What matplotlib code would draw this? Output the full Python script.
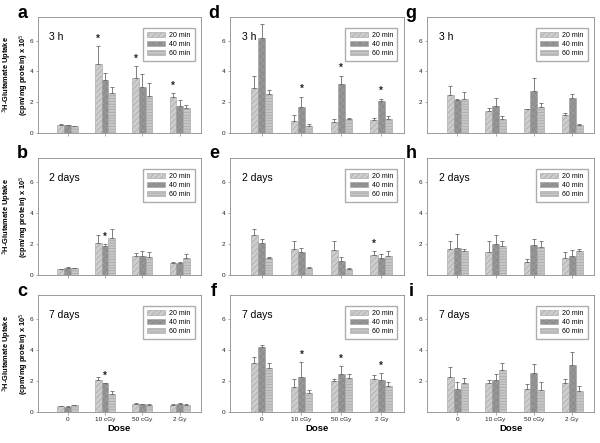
import numpy as np
import matplotlib.pyplot as plt

plt.rcParams['font.family'] = ['Liberation Sans', 'DejaVu Sans']
plt.rcParams['hatch.linewidth'] = 0.4

doses = ['0', '10 cGy', '50 cGy', '2 Gy']
series = ['20 min', '40 min', '60 min']

# means / error (SEM) per panel: rows = 20, 40, 60 min ; cols = doses
a_mean = [[0.54, 4.49, 3.60, 2.31], [0.50, 3.46, 2.98, 1.73], [0.43, 2.60, 2.42, 1.62]]
a_err = [[0.04, 1.17, 0.76, 0.28], [0.03, 0.43, 0.86, 0.43], [0.03, 0.38, 0.82, 0.22]]
d_mean = [[2.93, 0.75, 0.73, 0.84], [6.15, 1.71, 3.15, 2.06], [2.50, 0.47, 0.94, 0.94]]
d_err = [[0.80, 0.41, 0.17, 0.16], [0.92, 0.65, 0.58, 0.17], [0.28, 0.11, 0.05, 0.16]]
g_mean = [[2.49, 1.45, 1.54, 1.15], [2.14, 1.75, 2.75, 2.27], [2.20, 0.93, 1.66, 0.54]]
g_err = [[0.58, 0.17, 0.04, 0.17], [0.04, 0.50, 0.82, 0.26], [0.44, 0.17, 0.29, 0.04]]
b_mean = [[0.36, 2.03, 1.22, 0.79], [0.47, 1.86, 1.22, 0.75], [0.43, 2.35, 1.18, 1.07]]
b_err = [[0.05, 0.57, 0.17, 0.04], [0.04, 0.13, 0.32, 0.10], [0.04, 0.64, 0.32, 0.28]]
e_mean = [[2.60, 1.65, 1.60, 1.30], [2.07, 1.50, 0.92, 1.11], [1.11, 0.47, 0.41, 1.22]]
e_err = [[0.33, 0.57, 0.62, 0.26], [0.22, 0.23, 0.26, 0.21], [0.04, 0.02, 0.06, 0.34]]
h_mean = [[1.70, 1.48, 0.84, 1.10], [1.74, 2.00, 1.96, 1.20], [1.53, 1.87, 1.78, 1.55]]
h_err = [[0.47, 0.69, 0.17, 0.38], [0.90, 0.60, 0.34, 0.39], [0.13, 0.30, 0.39, 0.11]]
c_mean = [[0.37, 2.03, 0.54, 0.48], [0.32, 1.84, 0.50, 0.50], [0.43, 1.13, 0.43, 0.48]]
c_err = [[0.04, 0.24, 0.04, 0.02], [0.05, 0.04, 0.04, 0.06], [0.05, 0.21, 0.09, 0.02]]
f_mean = [[3.18, 1.62, 1.97, 2.12], [4.16, 2.27, 2.45, 2.03], [2.86, 1.23, 2.21, 1.67]]
f_err = [[0.33, 0.48, 0.13, 0.24], [0.15, 0.96, 0.52, 0.50], [0.28, 0.18, 0.21, 0.26]]
i_mean = [[2.28, 1.89, 1.50, 1.89], [1.50, 2.06, 2.49, 3.00], [1.89, 2.71, 1.42, 1.36]]
i_err = [[0.62, 0.17, 0.33, 0.21], [0.40, 0.36, 0.62, 0.88], [0.28, 0.47, 0.53, 0.32]]

# stars: (dose index, series index)
a_stars = [(1, 0), (2, 0), (3, 0)]
d_stars = [(1, 1), (2, 1), (3, 1)]
b_stars = [(1, 1)]
e_stars = [(3, 0)]
c_stars = [(1, 1)]
f_stars = [(1, 1), (2, 1), (3, 1)]

panels = [
    ('a', '3 h', a_mean, a_err, a_stars, 0, 0),
    ('d', '3 h', d_mean, d_err, d_stars, 0, 1),
    ('g', '3 h', g_mean, g_err, [], 0, 2),
    ('b', '2 days', b_mean, b_err, b_stars, 1, 0),
    ('e', '2 days', e_mean, e_err, e_stars, 1, 1),
    ('h', '2 days', h_mean, h_err, [], 1, 2),
    ('c', '7 days', c_mean, c_err, c_stars, 2, 0),
    ('f', '7 days', f_mean, f_err, f_stars, 2, 1),
    ('i', '7 days', i_mean, i_err, [], 2, 2),
]

W, H = 600, 443
cols = [(38, 201), (230, 404), (427, 594)]
rows = [(17, 133), (158, 275), (295, 412)]

colors = ['#cdcdcd', '#8e8e8e', '#c6c6c6']
hatches = ['//////', 'xxxxx', '------']
edge = '#a0a0a0'
frame = '#8a8a8a'
width = 0.18

fig = plt.figure(figsize=(6, 4.43), dpi=100)

for letter, label, mean, err, stars, r, c in panels:
    l, rr = cols[c]
    t, b = rows[r]
    ax = fig.add_axes([l / W, 1 - b / H, (rr - l) / W, (b - t) / H])
    x = np.arange(len(doses))
    mean = np.array(mean)
    err = np.array(err)
    for k in range(3):
        pos = x + (k - 1) * width
        ax.bar(pos, mean[k], width, color=colors[k], hatch=hatches[k],
               edgecolor=edge, linewidth=0.4, label=series[k])
        ax.errorbar(pos, mean[k], yerr=[np.zeros(4), err[k]], fmt='none',
                    ecolor='#6a6a6a', elinewidth=0.6, capsize=1.2, capthick=0.6)
    for di, si in stars:
        ax.text(di + (si - 1) * width, mean[si][di] + err[si][di] + 0.15, '*',
                ha='center', va='bottom', fontsize=7, fontweight='bold', color='#222222')
    ax.set_xlim(-0.79, 3.57)
    ax.set_ylim(0, 7.53)
    ax.set_xticks(x)
    if c == 2:
        ax.set_yticks([2, 4, 6])
    else:
        ax.set_yticks([0, 2, 4, 6])
    ax.tick_params(axis='both', labelsize=4.6, length=1.8, width=0.5,
                   color=frame, pad=1.5, labelcolor='#222222')
    if r == 2:
        ax.set_xticklabels(doses)
        ax.set_xlabel('Dose', fontsize=6.8, fontweight='bold', labelpad=2)
    else:
        ax.set_xticklabels([])
    if c == 0:
        fig.text(16 / W, 1 - (t + b) / 2 / H,
                 '$^3$H-Glutamate Uptake\n(cpm/mg protein) x 10$^5$',
                 rotation=90, ha='center', va='center', fontsize=5.4,
                 fontweight='bold', linespacing=1.45)
    for sp in ax.spines.values():
        sp.set_color(frame)
        sp.set_linewidth(0.6)
    ax.text(0.07, 0.83, label, transform=ax.transAxes, fontsize=7.5, ha='left', va='center')
    ax.legend(loc='upper right', bbox_to_anchor=(0.97, 0.92), fontsize=5.0,
              handlelength=2.6, handleheight=0.6, frameon=True, fancybox=False,
              edgecolor='#999999', borderpad=0.6, labelspacing=0.3,
              handletextpad=0.6, borderaxespad=0.2)
    fig.text((l - 16) / W, 1 - (t - 4) / H, letter, fontsize=13, fontweight='bold',
             ha='center', va='center')

fig.savefig('out.png', dpi=100)
